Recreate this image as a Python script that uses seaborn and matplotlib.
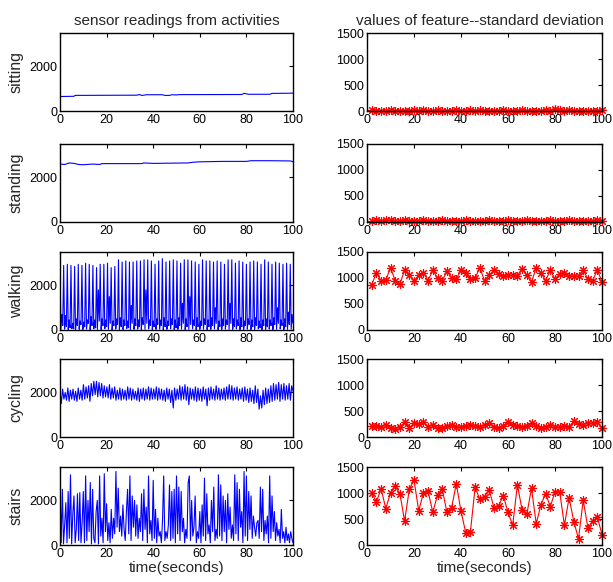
import numpy as np
import pandas as pd
import matplotlib
matplotlib.use("Agg")
import matplotlib.pyplot as plt
import seaborn as sns

sns.set_style("white")
plt.rcParams['font.family'] = ['Liberation Sans', 'DejaVu Sans']

# ---------------- data ----------------
activities = ["sitting", "standing", "walking", "cycling", "stairs"]

sit_t = [0, 6, 6.5, 33, 34, 35, 36, 37, 44, 45, 47, 48, 50, 51, 78, 79, 80, 81, 90, 91, 100]
sit_v = [650, 660, 700, 710, 740, 700, 710, 730, 730, 700, 700, 730, 720, 735, 740, 790, 770, 750, 750, 790, 800]

stand_t = [0, 2, 4, 6, 8, 10, 14, 17, 18, 35, 36, 40, 55, 57, 60, 70, 80, 82, 90, 99, 100]
stand_v = [2600, 2580, 2650, 2630, 2580, 2570, 2600, 2580, 2620, 2620, 2650, 2630, 2650, 2680, 2700, 2720, 2720, 2750, 2750, 2740, 2700]

walk_v = [
    2850, 30, 700, 200, 2900, 40, 650, 150, 2950, 20, 450, 100, 2900, 60, 300, 50,
    2850, 10, 500, 200, 2950, 30, 400, 250, 2900, 20, 350, 150, 3000, 40, 450, 300,
    2950, 20, 600, 200, 2900, 50, 450, 100, 2800, 30, 1800, 400, 2950, 20, 500, 200,
    2950, 60, 450, 150, 3000, 30, 1500, 300, 2800, 20, 400, 200, 2850, 40, 500, 250,
    3150, 30, 550, 150, 3050, 20, 450, 200, 3100, 60, 400, 100, 3050, 20, 1100, 300,
    3050, 30, 500, 200, 3100, 40, 450, 150, 3100, 20, 550, 250, 3150, 30, 1800, 300,
    3150, 50, 450, 200, 3100, 20, 400, 150, 2950, 30, 500, 250, 3100, 40, 450, 200,
    3200, 20, 550, 150, 3050, 30, 400, 200, 3100, 50, 500, 250, 3150, 20, 450, 100,
    3100, 30, 550, 200, 3000, 40, 1200, 300, 3150, 20, 500, 150, 3150, 30, 1500, 250,
    3100, 50, 450, 200, 3050, 20, 550, 150, 2950, 30, 400, 200, 3150, 40, 500, 250,
    3100, 20, 450, 150, 3100, 30, 550, 200, 3050, 50, 1000, 300, 3100, 20, 400, 150,
    3050, 30, 500, 200, 2950, 40, 450, 250, 3150, 20, 1200, 300, 3150, 30, 500, 150,
    3000, 50, 450, 200, 3100, 20, 550, 150, 3050, 30, 400, 200, 2950, 40, 500, 250,
    3050, 20, 450, 150, 3100, 30, 550, 200, 3050, 50, 400, 100, 2950, 20, 450, 200,
    3150, 30, 500, 150, 3050, 40, 450, 200, 2950, 20, 550, 250, 3050, 30, 1000, 300,
    3000, 50, 450, 200, 2950, 20, 500, 150, 3000, 30, 800, 250, 2950, 40, 700, 300,
]

cyc_v = [
    2050, 1500, 2150, 1700, 2000, 1650, 2200, 1600, 2100, 1700, 2150, 1650, 2050, 1600, 2200, 1700, 2100, 1650,
    2350, 1700, 2250, 1750, 2300, 1600, 2400, 1850, 2500, 1900, 2500, 1800, 2450, 1850, 2400, 1750, 2300, 1800,
    2250, 1750, 2350, 1700, 2200, 1750, 2250, 1650, 2100, 1700, 2200, 1650, 2150, 1700, 2100, 1650, 2250, 1700,
    2200, 1650, 2150, 1700, 2050, 1650, 2200, 1600, 2150, 1700, 2200, 1650, 2150, 1700, 2250, 1650, 2200, 1700,
    2150, 1700, 2250, 1650, 2200, 1700, 2150, 1650, 2100, 1600, 2200, 1700, 2150, 1550, 2100, 1300, 2200, 1650,
    2150, 1700, 2300, 1650, 2250, 1700, 2350, 1650, 2250, 1450, 2200, 1700, 2150, 1650, 2250, 1600, 2200, 1650,
    2150, 1600, 2250, 1700, 2150, 1400, 2200, 1650, 2250, 1700, 2150, 1650, 2300, 1700, 2200, 1650, 2150, 1700,
    2200, 1650, 2250, 1700, 2350, 1700, 2300, 1650, 2200, 1700, 2250, 1650, 2150, 1700, 2200, 1600, 2250, 1650,
    2150, 1550, 2200, 1600, 2100, 1500, 2300, 1550, 2150, 1250, 1850, 1300, 2100, 1450, 2200, 1500, 2150, 1550,
    2300, 1600, 2400, 1650, 2350, 1700, 2450, 1600, 2350, 1700, 2400, 1650, 2300, 1700, 2400, 1650, 2300, 2050,
]

stairs_v = [
    2650, 100, 2500, 50, 900, 1900, 100, 2400, 300, 3150, 50, 1400, 2200, 100, 700, 2300, 200, 2350, 100, 1000,
    2400, 100, 3100, 200, 2000, 600, 2800, 50, 2500, 300, 100, 1500, 2000, 50, 3100, 400, 1200, 100, 3200, 600,
    1850, 200, 1000, 100, 1600, 300, 1200, 500, 3300, 800, 2550, 600, 1300, 400, 1800, 700, 200, 1500, 2500, 500,
    3100, 200, 2200, 800, 2000, 400, 1800, 300, 1200, 600, 2300, 200, 2500, 700, 1700, 100, 3100, 500, 1100, 200,
    2900, 300, 1600, 100, 1200, 400, 600, 100, 1100, 3100, 200, 600, 300, 900, 2700, 200, 2400, 300, 2500, 100,
    3100, 500, 2600, 200, 2400, 600, 1200, 100, 700, 300, 2800, 3100, 200, 2000, 400, 800, 2200, 100, 600, 300,
    1500, 100, 1800, 400, 3000, 200, 2300, 500, 900, 100, 2000, 600, 2600, 200, 700, 300, 3150, 400, 2700, 200,
    2200, 600, 2000, 100, 2300, 700, 1700, 300, 900, 200, 3150, 500, 2800, 200, 2500, 800, 1500, 100, 3300, 400,
    3100, 200, 2400, 700, 2200, 300, 1300, 800, 400, 1000, 1100, 300, 2600, 600, 2500, 200, 1100, 500, 1300, 100,
    3100, 300, 2200, 600, 1500, 200, 1000, 400, 700, 100, 1600, 300, 600, 100, 800, 200, 500, 100, 600, 300, 100,
]

std_t = list(range(2, 101, 2))
sit_std = [10, 5, 8, 3, 12, 6, 9, 4, 7, 10, 5, 25, 8, 6, 10, 4, 9, 7, 12, 5,
           8, 20, 6, 10, 5, 9, 7, 4, 11, 6, 8, 5, 10, 7, 6, 9, 5, 12, 8, 30,
           15, 6, 10, 7, 5, 8, 6, 9, 4, 10]
stand_std = [20, 30, 25, 40, 30, 20, 25, 30, 20, 28, 22, 30, 18, 25, 20, 30, 22, 26, 20, 24,
             30, 22, 28, 20, 25, 30, 22, 28, 24, 30, 20, 26, 22, 30, 25, 20, 28, 22, 35, 20,
             26, 22, 30, 24, 20, 28, 25, 22, 30, 24]
walk_std = [870, 1100, 950, 960, 1200, 950, 880, 1150, 1050, 950,
            1050, 1100, 950, 1150, 1000, 950, 1130, 1000, 980, 1160,
            1100, 980, 1000, 1200, 950, 1050, 1150, 1080, 1030, 1050,
            1060, 1040, 1180, 1050, 920, 1200, 1100, 950, 1150, 980,
            1080, 1090, 1040, 1030, 1030, 1150, 980, 950, 1150, 930]
cyc_std = [220, 210, 200, 230, 180, 150, 200, 280, 180, 260,
           250, 290, 200, 230, 180, 170, 210, 230, 200, 190,
           220, 240, 210, 200, 230, 260, 200, 180, 220, 290,
           230, 220, 200, 210, 270, 220, 180, 200, 240, 200,
           190, 210, 200, 300, 250, 240, 270, 260, 280, 170]
stairs_std = [1000, 830, 1080, 700, 1000, 1130, 990, 460, 1070, 1250,
              660, 1000, 1030, 630, 960, 1080, 630, 720, 1180, 650,
              240, 250, 1110, 880, 930, 1060, 720, 750, 950, 630,
              380, 1160, 670, 590, 1090, 410, 770, 990, 740, 1020,
              1020, 380, 910, 450, 120, 860, 330, 460, 540, 200]

left_title = "sensor readings from activities"
right_title = "values of feature--standard deviation"
x_label = "time(seconds)"

raw_series = [
    (sit_t, sit_v),
    (stand_t, stand_v),
    (list(np.linspace(0, 100, len(walk_v))), walk_v),
    (list(np.linspace(0, 100, len(cyc_v))), cyc_v),
    (list(np.linspace(0, 100, len(stairs_v))), stairs_v),
]
std_series = [sit_std, stand_std, walk_std, cyc_std, stairs_std]

# ---------------- figure ----------------
W, H = 613, 582
fig = plt.figure(figsize=(W / 100, H / 100), dpi=100)

row_tops = [33, 144, 252, 359, 467]
row_h = 78
lx0, lx1 = 60, 293
rx0, rx1 = 367, 602

tick_fs = 9
lab_fs = 11.5
title_fs = 11


def style_axes(ax):
    for s in ax.spines.values():
        s.set_color("black")
        s.set_linewidth(1.0)
    ax.tick_params(direction="in", length=3, width=0.8, top=True, right=True,
                   labelsize=tick_fs, colors="black", pad=2)
    ax.set_xlim(0, 100)
    ax.set_xticks([0, 20, 40, 60, 80, 100])


for i, act in enumerate(activities):
    top = row_tops[i]
    # left
    axl = fig.add_axes([lx0 / W, 1 - (top + row_h) / H, (lx1 - lx0) / W, row_h / H])
    t, v = raw_series[i]
    dfl = pd.DataFrame({"t": t, "v": v})
    sns.lineplot(data=dfl, x="t", y="v", ax=axl, color=(0, 0, 1), linewidth=0.8,
                 estimator=None, sort=False)
    style_axes(axl)
    axl.set_ylim(0, 3500)
    axl.set_yticks([0, 2000])
    axl.set_ylabel(act, fontsize=lab_fs, labelpad=4)
    axl.set_xlabel("")
    # right
    axr = fig.add_axes([rx0 / W, 1 - (top + row_h) / H, (rx1 - rx0) / W, row_h / H])
    dfr = pd.DataFrame({"t": std_t, "v": std_series[i]})
    sns.lineplot(data=dfr, x="t", y="v", ax=axr, color=(1, 0, 0), linewidth=0.8,
                 marker=(8, 2, 0), markersize=6.5, markeredgewidth=0.8,
                 markeredgecolor=(1, 0, 0), estimator=None, sort=False, clip_on=False)
    style_axes(axr)
    axr.set_ylim(0, 1500)
    axr.set_yticks([0, 500, 1000, 1500])
    axr.set_ylabel("")
    axr.set_xlabel("")
    if i == 0:
        axl.set_title(left_title, fontsize=title_fs, pad=6)
        axr.set_title(right_title, fontsize=title_fs, pad=6, x=0.48)
    if i == len(activities) - 1:
        axl.set_xlabel(x_label, fontsize=11, labelpad=1)
        axr.set_xlabel(x_label, fontsize=11, labelpad=1)

fig.savefig("out.png", dpi=100)
